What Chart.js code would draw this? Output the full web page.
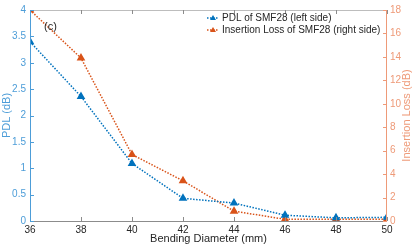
<!DOCTYPE html>
<html>
<head>
<meta charset="utf-8">
<script src="https://cdn.jsdelivr.net/npm/chart.js@4/dist/chart.umd.min.js"></script>
<style>
  html, body { margin: 0; padding: 0; background: #fff; }
  #wrap { width: 415px; height: 246px; }
</style>
</head>
<body>
<div id="wrap"><canvas id="pdlChart" width="415" height="246"></canvas></div>
<script>
// Données
const diameters = [36, 38, 40, 42, 44, 46, 48, 50];
const pdlValues = [3.40, 2.36, 1.09, 0.43, 0.34, 0.11, 0.06, 0.07];
const insertionLoss = [18.0, 13.9, 5.67, 3.43, 0.84, 0.15, 0.15, 0.15];
const xTicks = [36, 38, 40, 42, 44, 46, 48, 50];
const pdlTicks = [0, 0.5, 1, 1.5, 2, 2.5, 3, 3.5, 4];
const ilTicks = [0, 2, 4, 6, 8, 10, 12, 14, 16, 18];
const seriesLabels = ['PDL of SMF28 (left side)', 'Insertion Loss of SMF28 (right side)'];
const rightTitle = 'Insertion Loss (dB)';

const blue = '#0072BD';
const orange = '#D95319';
const blueAxis = '#4D9DD8';
const orangeAxis = '#EE9A78';
const font = "'Liberation Sans', Arial, sans-serif";

// Ticks vers l'intérieur + cadre, façon MATLAB
const boxPlugin = {
    id: 'box',
    afterDraw(chart) {
        const { ctx, chartArea: a, scales } = chart;
        ctx.save();
        ctx.lineWidth = 1;
        ctx.strokeStyle = '#BDBDBD';
        ctx.beginPath();
        ctx.moveTo(a.left, a.top + 0.5); ctx.lineTo(a.right, a.top + 0.5);
        ctx.stroke();
        ctx.strokeStyle = '#8C8C8C';
        ctx.beginPath();
        ctx.moveTo(a.left, a.bottom + 0.5); ctx.lineTo(a.right, a.bottom + 0.5);
        xTicks.forEach(v => {
            const x = Math.round(scales.x.getPixelForValue(v)) + 0.5;
            ctx.moveTo(x, a.bottom); ctx.lineTo(x, a.bottom - 4);
            ctx.moveTo(x, a.top); ctx.lineTo(x, a.top + 4);
        });
        ctx.stroke();
        ctx.strokeStyle = blueAxis;
        ctx.beginPath();
        ctx.moveTo(a.left + 0.5, a.top); ctx.lineTo(a.left + 0.5, a.bottom);
        pdlTicks.forEach(v => {
            const y = Math.round(scales.y.getPixelForValue(v)) + 0.5;
            ctx.moveTo(a.left, y); ctx.lineTo(a.left + 4, y);
        });
        ctx.stroke();
        ctx.strokeStyle = orangeAxis;
        ctx.beginPath();
        ctx.moveTo(a.right - 0.5, a.top); ctx.lineTo(a.right - 0.5, a.bottom);
        ilTicks.forEach(v => {
            const y = Math.round(scales.y1.getPixelForValue(v)) + 0.5;
            ctx.moveTo(a.right, y); ctx.lineTo(a.right - 4, y);
        });
        ctx.stroke();

        // titre de l'axe droit, lu de bas en haut comme sous MATLAB
        ctx.save();
        ctx.fillStyle = orangeAxis;
        ctx.font = '11px ' + font;
        ctx.textAlign = 'center';
        ctx.textBaseline = 'middle';
        ctx.translate(407, (a.top + a.bottom) / 2);
        ctx.rotate(-Math.PI / 2);
        ctx.fillText(rightTitle, 0, 0);
        ctx.restore();

        // étiquette (c)
        ctx.fillStyle = '#262626';
        ctx.font = '11px ' + font;
        ctx.textBaseline = 'middle';
        ctx.fillText('(c)', a.left + 14, a.top + 17);

        // légende
        const colors = [blue, orange];
        ctx.font = '10px ' + font;
        seriesLabels.forEach((label, i) => {
            const y = a.top + 8 + i * 12;
            const x0 = 207;
            ctx.strokeStyle = colors[i];
            ctx.lineWidth = 1.5;
            ctx.setLineDash([1.5, 1.5]);
            ctx.beginPath();
            ctx.moveTo(x0, y); ctx.lineTo(x0 + 12, y);
            ctx.stroke();
            ctx.setLineDash([]);
            ctx.fillStyle = colors[i];
            ctx.beginPath();
            ctx.moveTo(x0 + 6, y - 3); ctx.lineTo(x0 + 9, y + 2); ctx.lineTo(x0 + 3, y + 2);
            ctx.closePath();
            ctx.fill();
            ctx.fillStyle = '#262626';
            ctx.fillText(label, x0 + 15, y);
        });
        ctx.restore();
    }
};

const fmt = v => String(v);
const noGrid = { display: false, drawTicks: false, tickLength: 0 };

new Chart(document.getElementById('pdlChart'), {
    type: 'line',
    data: {
        datasets: [
            {
                label: seriesLabels[0],
                data: diameters.map((d, i) => ({ x: d, y: pdlValues[i] })),
                yAxisID: 'y',
                borderColor: blue,
                backgroundColor: blue,
                borderWidth: 1.5,
                borderDash: [1.5, 1.5],
                pointStyle: 'triangle',
                pointRadius: 3.5,
                tension: 0
            },
            {
                label: seriesLabels[1],
                data: diameters.map((d, i) => ({ x: d, y: insertionLoss[i] })),
                yAxisID: 'y1',
                borderColor: orange,
                backgroundColor: orange,
                borderWidth: 1.5,
                borderDash: [1.5, 1.5],
                pointStyle: 'triangle',
                pointRadius: 3.5,
                tension: 0
            }
        ]
    },
    options: {
        responsive: false,
        animation: false,
        layout: { padding: { top: 6, right: 0, left: 0, bottom: 0 } },
        plugins: { legend: { display: false }, tooltip: { enabled: false } },
        scales: {
            x: {
                type: 'linear', min: 36, max: 50,
                afterBuildTicks: s => { s.ticks = xTicks.map(v => ({ value: v })); },
                afterFit: s => { s.height = 25; },
                grid: noGrid,
                border: { display: false },
                ticks: { color: '#262626', font: { family: font, size: 10 }, padding: 3, maxRotation: 0, callback: fmt },
                title: { display: true, text: 'Bending Diameter (mm)', color: '#262626', font: { family: font, size: 11 }, padding: { top: 0, bottom: 0 } }
            },
            y: {
                position: 'left', min: 0, max: 4,
                afterBuildTicks: s => { s.ticks = pdlTicks.map(v => ({ value: v })); },
                afterFit: s => { s.width = 30; },
                grid: noGrid,
                border: { display: false },
                ticks: { color: blueAxis, font: { family: font, size: 10 }, padding: 4, callback: fmt },
                title: { display: true, text: 'PDL (dB)', color: blueAxis, font: { family: font, size: 11 }, padding: { top: 0, bottom: 0 } }
            },
            y1: {
                position: 'right', min: 0, max: 18,
                afterBuildTicks: s => { s.ticks = ilTicks.map(v => ({ value: v })); },
                afterFit: s => { s.width = 28; },
                grid: noGrid,
                border: { display: false },
                ticks: { color: orangeAxis, font: { family: font, size: 10 }, padding: 3, callback: fmt },
                title: { display: false }
            }
        }
    },
    plugins: [boxPlugin]
});
</script>
</body>
</html>
